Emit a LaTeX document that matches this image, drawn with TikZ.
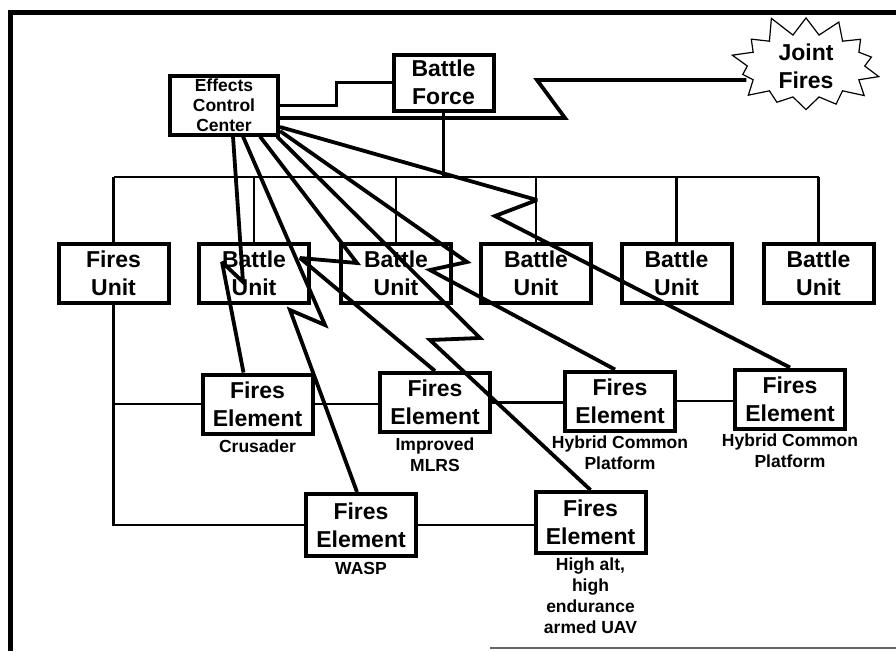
\documentclass[tikz,border=0pt]{standalone}
\usepackage{fontspec}
\setmainfont{Liberation Sans}
\usetikzlibrary{positioning,shapes.symbols}

\newcommand{\boxfont}{\fontsize{23}{28}\selectfont\bfseries}
\newcommand{\eccfont}{\fontsize{17.5}{20}\selectfont\bfseries}
\newcommand{\subfont}{\fontsize{17.5}{21}\selectfont\bfseries}

\begin{document}
\begin{tikzpicture}[x=1pt, y=-1pt,
		box/.style={draw, line width=4pt, align=center, font=\boxfont,
			minimum width=110pt, minimum height=59pt, inner sep=2pt},
		sub/.style={align=center, font=\subfont, inner sep=0pt},
		tree/.style={line width=2.2pt},
		link/.style={line width=3.8pt, miter limit=3}]
		\useasboundingbox (0,0) rectangle (896,651);
		% frame
		\draw[line width=5pt] (10,651) -- (10,12) -- (896,12);
		\draw[line width=1.2pt, black!60] (490,648) -- (896,648);

		% top row
		\node[box, font=\eccfont, minimum width=108pt, inner ysep=0pt] (ecc) at (224,105) {Effects\\Control\\Center};
		\node[box, minimum width=100pt, minimum height=56pt] (bf) at (443.5,82.5) {Battle\\Force};
		\node[draw, line width=1.2pt, starburst, starburst points=14, starburst point height=22pt,
			random starburst=11, font=\boxfont, align=center, inner xsep=14pt, inner ysep=0pt]
			(jf) at (806,66) {Joint\\Fires};

		% units
		\node[box] (fu) at (113.5,273.5) {Fires\\Unit};
		\node[box] (bu1) at (254,273.5) {Battle\\Unit};
		\node[box] (bu2) at (396,273.5) {Battle\\Unit};
		\node[box] (bu3) at (536,273.5) {Battle\\Unit};
		\node[box] (bu4) at (676.5,273.5) {Battle\\Unit};
		\node[box] (bu5) at (818.5,273.5) {Battle\\Unit};

		% elements
		\node[box] (cru) at (257.5,404) {Fires\\Element};
		\node[box] (mlrs) at (435,402.5) {Fires\\Element};
		\node[box] (hyb1) at (620,401) {Fires\\Element};
		\node[box] (hyb2) at (790,399) {Fires\\Element};
		\node[box, minimum height=62pt] (wasp) at (361,525) {Fires\\Element};
		\node[box, minimum height=61pt] (ua) at (590.5,522.5) {Fires\\Element};

		\node[sub, below=4pt of cru] (crul) {Crusader};
		\node[sub, below=4pt of mlrs] (mlrsl) {Improved\\MLRS};
		\node[sub, below=3pt of hyb1] (hyb1l) {Hybrid Common\\Platform};
		\node[sub, below=3pt of hyb2] (hyb2l) {Hybrid Common\\Platform};
		\node[sub, below=4pt of wasp] (waspl) {WASP};
		\node[sub, below=3pt of ua] (ual) {High alt,\\high\\endurance\\armed UAV};

		% command tree
		\coordinate (bus) at (450,177);
		\draw[tree] (bf.south) -- (bf.south |- bus);
		\draw[tree] (bus -| fu.north) -- (bus -| bu5.north);
		\draw[tree] (bus -| fu.north) -- (fu.north);
		\draw[tree] (bus -| bu1.north) -- (bu1.north);
		\draw[tree] (bus -| bu2.north) -- (bu2.north);
		\draw[tree] (bus -| bu3.north) -- (bu3.north);
		\draw[tree] (bus -| bu4.north) -- (bu4.north);
		\draw[tree] (bus -| bu5.north) -- (bu5.north);
		\draw[tree] (fu.south) |- (wasp.west);
		\draw[tree] (fu.south |- cru.west) -- (cru.west);
		\draw[tree] (cru.east) -- (cru.east -| mlrs.west);
		\draw[tree] (mlrs.east) -- (mlrs.east -| hyb1.west);
		\draw[tree] (hyb1.east) -- (hyb1.east -| hyb2.west);
		\draw[tree] (wasp.east) -- (wasp.east -| ua.west);
		\draw[line width=3pt] (ecc.east) -- ++(56,0) |- (bf.west);

		% fires links
		\draw[link] ([xshift=9pt]ecc.south) -- (243,282) -- (222,262) -- ([xshift=-14pt]cru.north);
		\draw[link] ([xshift=19pt]ecc.south) -- (325,325) -- (290,310) -- ([xshift=-4pt]wasp.north);
		\draw[link] ([xshift=36pt]ecc.south) -- (357,263) -- (300,258) -- (mlrs.north);
		\draw[link] ([xshift=-3pt]ecc.south east) -- (480,338) -- (430,340) -- (ua.north);
		\draw[link] ([yshift=-26pt]ecc.east) -- (467,262) -- (430,270) -- ([xshift=-5pt]hyb1.north);
		\draw[link] ([yshift=-22pt]ecc.east) -- (537,200) -- (495,216) -- (hyb2.north);
		\draw[link] ([yshift=-13pt]ecc.east) -- (565,118) -- (537,80) -- ([yshift=-14pt]jf.west);
	\end{tikzpicture}
\end{document}
